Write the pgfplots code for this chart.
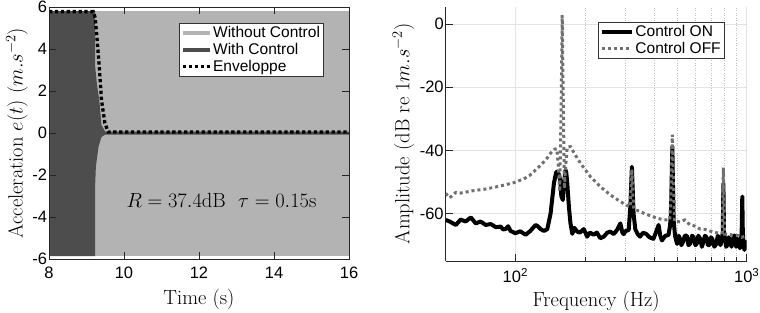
\RequirePackage{fix-cm}
\documentclass[border=0pt]{standalone}
\usepackage{fontspec}
\usepackage{pgfplots}
\pgfplotsset{compat=1.18}
\newfontfamily\arial{Liberation Sans}
\definecolor{lightfill}{HTML}{B3B3B3}
\definecolor{darkfill}{HTML}{4D4D4D}
\definecolor{offgray}{HTML}{707070}
\definecolor{gridgray}{HTML}{E3E3E3}
\newcommand\tickfont{\arial\fontsize{16.5}{19}\selectfont}
\newcommand\legfont{\arial\fontsize{15.5}{18}\selectfont}
\newcommand\labfont{\fontsize{20.5}{24}\selectfont}
\begin{document}
\begin{tikzpicture}
\useasboundingbox (0,0) rectangle (760pt,313pt);
\pgfplotsset{
  every axis/.append style={
    scale only axis, anchor=south west,
    tick align=inside,
    major tick length=7pt, minor tick length=4pt,
    tick style={line width=0.6pt, color=black!85},
    axis line style={line width=0.6pt, color=black!85},
    tick label style={font=\tickfont},
    yticklabel style={xshift=1.5pt},
    xticklabel style={yshift=-4pt},
    /pgf/number format/assume math mode=true,
    label style={font=\labfont},
    legend cell align=left,
  }
}
% ---------------- left axis
\begin{axis}[
  at={(49pt,53.7pt)}, width=300pt, height=252.3pt,
  xmin=8, xmax=16, ymin=-6, ymax=6,
  xtick={8,10,...,16}, ytick={-6,-4,...,6},
  axis on top,
  xlabel={Time (s)},
  ylabel={Acceleration $e(t)$ $(m.s^{-2})$},
  xlabel style={at={(axis description cs:0.5,0)}, anchor=center, yshift=-40pt},
  ylabel style={at={(axis description cs:-0.107,0.5)}, anchor=center, rotate=0},
  legend style={at={(0.433,0.9366)}, anchor=north west, font=\legfont,
    draw=black!80, line width=0.5pt, fill=white, inner sep=2pt, row sep=1pt,
    nodes={inner sep=1.5pt}},
  legend image code/.code={\draw[#1] (0pt,0pt) -- (27pt,0pt);},
]
\addplot[fill=lightfill, draw=none, forget plot] coordinates
  {(8,-5.85) (16,-5.85) (16,5.8) (8,5.8)} -- cycle;
\addplot[fill=darkfill, draw=none, forget plot] coordinates
  {(8,5.8) (9.23,5.8) (9.23,3.2) (9.28,2.3) (9.34,1.57) (9.40,0.38) (9.50,0.07)
   (16,0.07) (16,-0.07) (9.50,-0.07) (9.40,-0.18) (9.32,-0.65) (9.25,-1.6)
   (9.23,-2.5) (9.23,-5.85) (8,-5.85)} -- cycle;
\addplot[black, line width=3.3pt, dash pattern=on 3.3pt off 2.6pt, forget plot] coordinates
  {(8,5.78) (9.18,5.78) (9.23,5.5) (9.27,4.75) (9.34,3.16) (9.40,1.57)
   (9.49,0.48) (9.58,0.05) (16,0.05)};
\addlegendimage{lightfill, line width=3.5pt}
\addlegendentry{Without Control}
\addlegendimage{darkfill, line width=3.5pt}
\addlegendentry{With Control}
\addlegendimage{black, line width=3.3pt, dash pattern=on 3.3pt off 2.6pt}
\addlegendentry{Enveloppe}
\node[font=\labfont] at (axis cs:12.6,-3.2)
  {$R=37.4\mathrm{dB}\ \ \tau=0.15\mathrm{s}$};
\end{axis}
% ---------------- right axis
\begin{axis}[
  at={(445.7pt,52pt)}, width=301pt, height=254.4pt,
  xmode=log, xmin=50, xmax=1000, ymin=-75, ymax=5.5,
  xtick={100,1000}, xticklabels={10\textsuperscript{2},10\textsuperscript{3}},
  ytick={-60,-40,-20,0},
  axis x line*=bottom, axis y line*=left,
  grid=both,
  major grid style={gridgray, line width=0.8pt},
  minor grid style={black!25, line width=0.5pt, dotted},
  xlabel={Frequency (Hz)},
  ylabel={Amplitude (dB re 1$m.s^{-2}$)},
  xlabel style={at={(axis description cs:0.5,0)}, anchor=center, yshift=-40pt},
  ylabel style={at={(axis description cs:-0.14,0.5)}, anchor=center},
  legend style={at={(0.505,0.9395)}, anchor=north west, font=\legfont,
    draw=black!80, line width=0.5pt, fill=white, inner sep=2pt, row sep=1pt,
    nodes={inner sep=1.5pt}},
  legend image code/.code={\draw[#1] (0pt,0pt) -- (30pt,0pt);},
]
\addplot[black, line width=4pt, line join=round] coordinates {
(50,-62) (52,-62.5) (55.3,-63.6) (58,-61.9) (61,-62.5) (64.2,-61.2) (67.4,-63.1)
(70.8,-62.5) (74.4,-63.6) (78.3,-63.3) (82.3,-64.3) (86.4,-64.1) (88.5,-65.0)
(90.8,-64.9) (93,-64) (95.4,-65.5) (100,-66.2) (105,-65.6) (110.8,-66.7)
(116,-65.5) (122.3,-63.6) (125,-64) (128.5,-64.9) (133,-65.5) (137.4,-64.9)
(142,-60) (146.8,-50.4) (150,-47) (151.7,-46.7) (154,-47.5) (156.7,-50)
(158,-54.5) (160.4,-55.7) (162.5,-50) (164.8,-46.2) (166,-47) (167.5,-50)
(170.4,-57.8) (173,-63) (176.3,-66.4) (180,-64.5) (185,-65.7) (190,-66)
(197.6,-64.9) (204.3,-67.3) (210,-66) (218.2,-66.7) (225,-66) (233,-67.8)
(241,-67.3) (250,-66) (257.5,-65.7) (266,-66.5) (275,-65.2) (284.5,-63.1)
(290,-66) (293.9,-66.5) (300,-65.5) (309,-65.2) (314,-57.8) (319,-45.2)
(324.3,-60) (330,-65) (338,-66.5) (346,-67.3) (357,-66) (369,-66.5)
(380,-67.5) (395,-68) (405,-66) (416,-63.6) (423,-67) (430,-68.5) (445,-67)
(459,-66.8) (466,-64) (470.7,-60) (477,-38.8) (483,-62) (490,-67) (500,-69.6)
(508,-67) (515,-68) (522,-70) (530,-69) (540,-67) (551,-67) (560,-70)
(570,-69.5) (580,-67) (590,-67.5) (600,-70) (608,-69.6) (618,-67) (630,-68)
(640,-70.5) (650,-69) (660,-67) (670,-67.5) (680,-70) (690,-70) (700,-67.5)
(710,-68) (725,-70.5) (739,-69.6) (750,-67) (760,-68) (770,-70) (780,-68.5)
(788,-66) (793,-50.5) (798,-66) (805,-68) (815,-70.5) (825,-70) (835,-67.5)
(848,-68.5) (860,-70.5) (870,-69) (880,-67) (890,-67) (900,-70.5) (906,-70)
(915,-68) (925,-69) (935,-71) (945,-68) (951,-66) (957,-54.6) (962,-66)
(968,-69) (977,-71.5) (985,-70.5) (993,-69) (1000,-71)};
\addlegendentry{Control ON}
\addplot[offgray, line width=3pt, dash pattern=on 3pt off 3pt] coordinates {
(50,-53.6) (52,-55) (55.3,-53.3) (58,-53.5) (61,-53.2) (66.3,-52.7) (73.3,-52.3)
(80.9,-51.7) (89.3,-51.0) (98.6,-50.2) (108.9,-49) (115,-48) (120.3,-46.7)
(126,-45.3) (132.8,-43.6) (138,-42.2) (142,-40.9) (148,-39.6) (151,-39.5)
(153.5,-45) (155.5,-53) (157.5,-30) (158.7,-10) (159.4,2.8) (160.2,-10)
(161.5,-30) (163,-52) (165,-45) (167.5,-39) (173.1,-38.8) (180,-41)
(191.3,-44.1) (211,-48.3) (233,-51.5) (257.5,-54.1) (284.5,-56.2) (305,-57.5)
(314,-57.8) (317,-50) (319,-46) (321,-52) (325,-58.5) (346,-59.4) (374,-60.4)
(411,-61.5) (440,-62) (465,-62) (472,-50) (477,-35) (482,-50) (488,-62.5)
(517,-62.6) (540,-62) (567,-63.5) (600,-64) (629,-64.9) (660,-65) (693,-65.5)
(730,-66) (763,-66.2) (785,-66) (789,-55) (793,-45.5) (797,-55) (802,-66.5)
(840,-66.5) (880,-67) (920,-67) (950,-67.5) (1000,-67)};
\addlegendentry{Control OFF}
\end{axis}
\end{tikzpicture}
\end{document}
